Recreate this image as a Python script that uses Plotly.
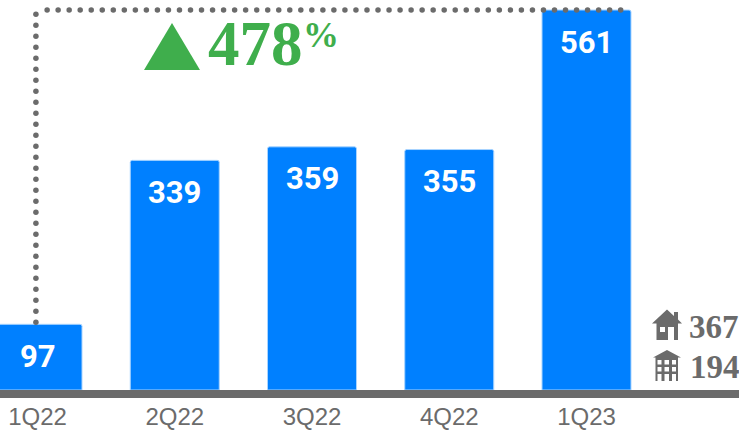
import numpy as np
import plotly.graph_objects as go

categories = ["1Q22", "2Q22", "3Q22", "4Q22", "1Q23"]
values = [97, 339, 359, 355, 561]
growth_label = "478"
house_value = "367"
building_value = "194"

W, H = 739, 430
PLOT_H = 390
BLUE = "#0080ff"
GREY = "#6b6b6b"
GREEN = "#3fae4c"
STEP = 137.25
C0 = 37.5
YMAX = PLOT_H * 561 / 380


def px(x):
    return x / W


def py(y):
    return (PLOT_H - y) / PLOT_H


def poly(points, color):
    d = "M" + " L".join(f"{px(x):.5f},{py(y):.5f}" for x, y in points) + " Z"
    return dict(type="path", xref="paper", yref="paper", path=d,
                fillcolor=color, line=dict(width=0), layer="above")


def rect(x0, y0, x1, y1, color):
    return poly([(x0, y0), (x1, y0), (x1, y1), (x0, y1)], color)


fig = go.Figure()
fig.add_trace(go.Bar(
    x=list(range(5)), y=values, width=89 / STEP,
    marker=dict(color=BLUE, cornerradius=2, line=dict(color="#a9d4ff", width=1)),
    hoverinfo="skip", showlegend=False,
))

# dotted connector between the first and last bar
top = values[-1]
px_per_x = 1 / STEP
v_y = np.arange(values[0] + 3, top + 2, 11 / (380 / 561))
h_x = np.arange(0.08, 4.33, 11.03 * px_per_x) - 0.01
fig.add_trace(go.Scatter(
    x=np.concatenate([np.full(len(v_y), -0.0115), h_x]),
    y=np.concatenate([v_y, np.full(len(h_x), top)]),
    mode="markers", marker=dict(color=GREY, size=5.5, line=dict(width=0)),
    hoverinfo="skip", showlegend=False, cliponaxis=False,
))

annotations = [
    dict(x=i, y=v, yshift=-32, text=f"<b>{v}</b>", showarrow=False,
         xanchor="center", yanchor="middle",
         font=dict(family="Roboto", size=31, color="white"))
    for i, v in enumerate(values)
]


def page_text(text, x, y, size, color, anchor="left"):
    return dict(xref="paper", yref="paper", x=px(x), y=py(y), text=f"<b>{text}</b>",
                showarrow=False, xanchor=anchor, yanchor="middle",
                xshift=0, borderpad=0, align="left",
                font=dict(family="Liberation Serif", size=size, color=color))


annotations += [
    page_text(growth_label, 207, 43.5, 63, GREEN),
    page_text("%", 302, 35, 36, GREEN),
    page_text(house_value, 688, 327, 33, GREY),
    page_text(building_value, 689, 367, 33, GREY),
]

shapes = [
    poly([(144, 70), (200, 70), (172, 23)], GREEN),
    # house icon
    poly([(667, 309.5), (674, 316), (674, 312), (678, 312), (678, 319.5), (682, 323.5),
          (678, 323.5), (678, 340), (656.5, 340), (656.5, 323.5), (652, 323.5)], GREY),
    rect(668, 327, 674, 340, "white"),
    rect(660, 327, 665, 332, "white"),
    # building icon
    poly([(667, 350), (681, 357.5), (678, 357.5), (678, 381), (655.5, 381),
          (655.5, 357.5), (653, 357.5)], GREY),
]
for cx0, cx1 in [(657.5, 661.5), (664.5, 669), (672, 676)]:
    for cy0, cy1 in [(360, 364.5), (367, 371.5), (374, 381)]:
        shapes.append(rect(cx0, cy0, cx1, cy1, "white"))

fig.update_layout(
    width=W, height=H, margin=dict(l=0, r=0, t=0, b=H - PLOT_H, autoexpand=False),
    paper_bgcolor="white", plot_bgcolor="white",
    annotations=annotations, shapes=shapes, showlegend=False,
    xaxis=dict(
        range=[-C0 / STEP, (W - C0) / STEP], tickmode="array",
        tickvals=list(range(5)), ticktext=categories, showgrid=False, zeroline=False,
        showline=True, linecolor=GREY, linewidth=8, ticks="", ticklen=0,
        ticklabelstandoff=-2,
        tickfont=dict(family="Liberation Sans", size=24, color=GREY),
    ),
    yaxis=dict(range=[0, YMAX], visible=False, showgrid=False, zeroline=False),
)
fig.write_html(
    "out.html", config={"displayModeBar": False},
    post_script="document.body.style.margin='0';document.documentElement.style.overflow='hidden';",
)
